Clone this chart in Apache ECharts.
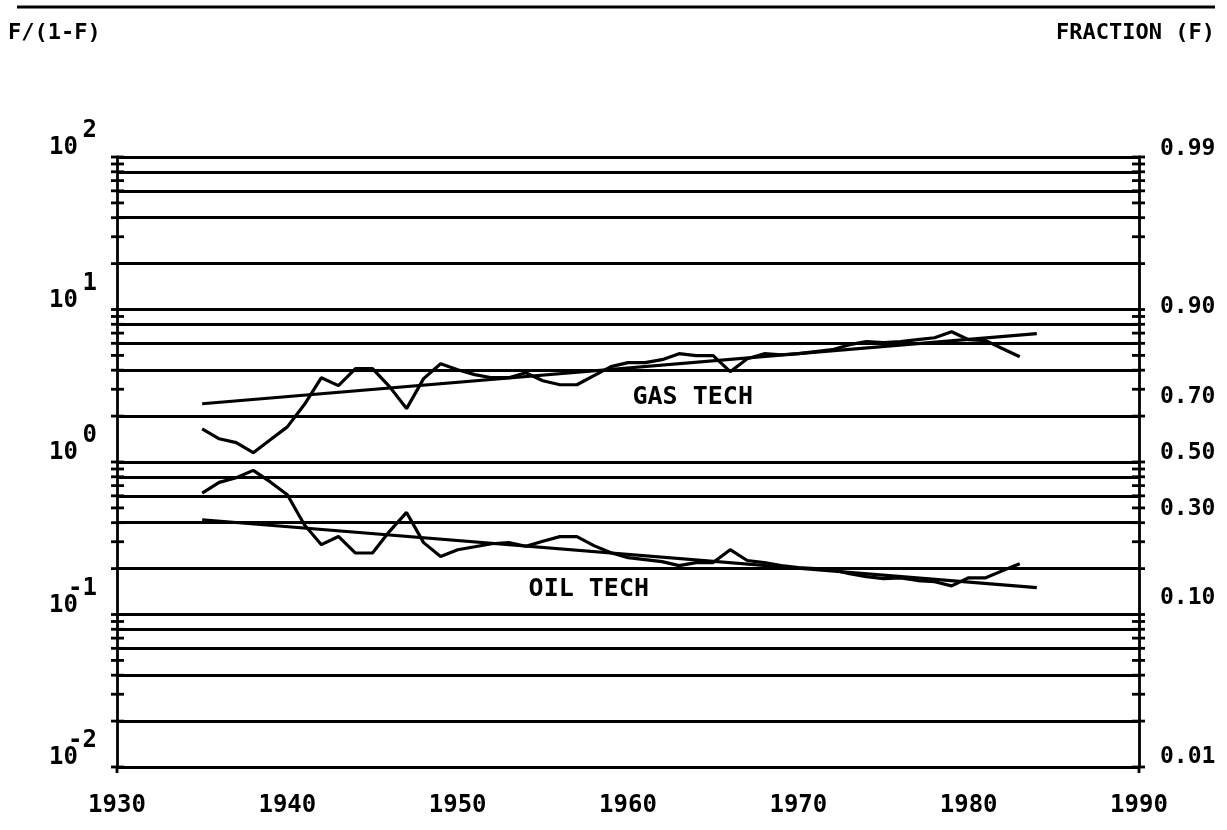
<!DOCTYPE html>
<html><head><meta charset="utf-8">
<script src="https://cdn.jsdelivr.net/npm/echarts@6/dist/echarts.min.js"></script>
<style>html,body{margin:0;padding:0;background:#fff}#c{width:1227px;height:830px}</style>
</head><body><div id="c"></div>
<script>
const years = [1935,1936,1937,1938,1939,1940,1941,1942,1943,1944,1945,1946,1947,1948,1949,1950,1951,1952,1953,1954,1955,1956,1957,1958,1959,1960,1961,1962,1963,1964,1965,1966,1967,1968,1969,1970,1971,1972,1973,1974,1975,1976,1977,1978,1979,1980,1981,1982,1983];
const gasTech = [1.65,1.42,1.34,1.15,1.40,1.70,2.38,3.57,3.17,4.09,4.09,3.12,2.24,3.52,4.41,4.03,3.74,3.57,3.57,3.85,3.41,3.21,3.21,3.68,4.22,4.48,4.48,4.69,5.13,4.98,4.98,3.91,4.76,5.13,5.05,5.13,5.29,5.45,5.88,6.15,6.06,6.15,6.34,6.53,7.15,6.34,6.25,5.53,4.90];
const oilTech = [0.626,0.735,0.789,0.881,0.74,0.610,0.388,0.287,0.325,0.253,0.253,0.351,0.467,0.296,0.240,0.266,0.278,0.291,0.296,0.280,0.302,0.324,0.324,0.283,0.254,0.236,0.229,0.222,0.209,0.219,0.219,0.266,0.226,0.219,0.209,0.203,0.200,0.197,0.185,0.177,0.172,0.174,0.167,0.164,0.154,0.174,0.174,0.194,0.215];
const fitYears = [1935, 1984];
const gasFit = [2.41, 6.94];
const oilFit = [0.418, 0.150];
const gridValues = [0.02,0.04,0.06,0.08,0.1,0.2,0.4,0.6,0.8,1,2,4,6,8,10,20,40,60,80,100];
const tickValues = [0.01,0.02,0.03,0.04,0.05,0.06,0.07,0.08,0.09,0.1,0.2,0.3,0.4,0.5,0.6,0.7,0.8,0.9,1,2,3,4,5,6,7,8,9,10,20,30,40,50,60,70,80,90,100];
const xTickYears = [1930,1990];
const powerValues = [0.01, 0.1, 1, 10, 100];
const powerExponents = ['-2','-1','0','1','2'];
const fractionLabels = ['0.99','0.90','0.70','0.50','0.30','0.10','0.01'];
const curveNames = ['GAS TECH','OIL TECH'];
const curveLabelYears = [1963.8, 1957.7];
const curveLabelValues = [2.64, 0.1454];

const FONT = '"DejaVu Sans Mono", monospace';
const BLK = '#000';
const chart = echarts.init(document.getElementById('c'), null, {renderer:'canvas'});

function lineSeries(xs, ys, w) {
  return { type:'line', data: xs.map((x,i)=>[x, ys[i]]), showSymbol:false, symbol:'none',
    lineStyle:{color:BLK, width:w}, itemStyle:{color:BLK}, silent:true, z:5 };
}

const yBase = { type:'log', logBase:10, min:0.01, max:100, splitNumber:4, splitLine:{show:false}, axisTick:{show:false}, axisLabel:{show:false} };

const option = {
  animation:false,
  backgroundColor:'#fff',
  grid:{left:117, right:88, top:157, bottom:63, containLabel:false},
  xAxis:{ type:'value', min:1930, max:1990, interval:10,
    axisLine:{show:true, lineStyle:{color:BLK, width:2.8}}, axisTick:{show:false}, splitLine:{show:false},
    axisLabel:{color:BLK, fontFamily:FONT, fontWeight:'bold', fontSize:24, margin:27, formatter:v=>String(v)} },
  yAxis:[
    Object.assign({}, yBase, { position:'left', axisLine:{show:true, lineStyle:{color:BLK, width:2.8}} }),
    Object.assign({}, yBase, { position:'right', axisLine:{show:true, lineStyle:{color:BLK, width:2.8}} })
  ],
  graphic:[
    {type:'line', shape:{x1:17, y1:7, x2:1215, y2:7}, style:{stroke:BLK, lineWidth:3}},
    {type:'text', left:8, top:22, style:{text:'F/(1-F)', font:'bold 22px '+FONT, fill:BLK}},
    {type:'text', right:12, top:22, style:{text:'FRACTION (F)', font:'bold 22px '+FONT, fill:BLK}}
  ],
  series:[
    Object.assign(lineSeries(fitYears, gasFit, 3.2), {
      markLine:{ silent:true, symbol:['none','none'], label:{show:false}, animation:false,
        lineStyle:{color:BLK, width:2.8, type:'solid'}, emphasis:{disabled:true},
        data: gridValues.map(v=>({yAxis:v})) } }),
    lineSeries(years, gasTech, 3.2),
    lineSeries(years, oilTech, 3.2),
    lineSeries(fitYears, oilFit, 3.2),
    { type:'custom', clip:false, silent:true, z:6,
      data: tickValues.map(v=>[1930, v]),
      encode:{x:0, y:1},
      renderItem:(params, api)=>{
        const v = api.value(1);
        const pL = api.coord([1930, v]);
        const pR = api.coord([1990, v]);
        const st = {stroke:BLK, lineWidth:2.8};
        return {type:'group', children:[
          {type:'line', shape:{x1:pL[0]-6, y1:pL[1], x2:pL[0]+7, y2:pL[1]}, style:st},
          {type:'line', shape:{x1:pR[0]-7, y1:pR[1], x2:pR[0]+6, y2:pR[1]}, style:st}
        ]};
      } },
    { type:'custom', clip:false, silent:true, z:6,
      data: xTickYears.map(y=>[y, 0.01]),
      encode:{x:0, y:1},
      renderItem:(params, api)=>{
        const p = api.coord([api.value(0), 0.01]);
        return {type:'line', shape:{x1:p[0], y1:p[1], x2:p[0], y2:p[1]+6}, style:{stroke:BLK, lineWidth:2.8}};
      } },
    { type:'custom', clip:false, silent:true, z:6,
      data: powerValues.map(v=>[1930, v]),
      encode:{x:0, y:1},
      renderItem:(params, api)=>{
        const p = api.coord([1930, api.value(1)]);
        return {type:'group', children:[
          {type:'text', x:p[0]-39, y:p[1]-9,
            style:{text:'10', font:'bold 24px '+FONT, fill:BLK, align:'right', verticalAlign:'middle'}},
          {type:'text', x:p[0]-20, y:p[1]-26,
            style:{text:powerExponents[params.dataIndex], font:'bold 24px '+FONT, fill:BLK, align:'right', verticalAlign:'middle'}}
        ]};
      } },
    { type:'custom', clip:false, silent:true, z:6,
      data: fractionLabels.map(s=>{ const f = parseFloat(s); return [1990, f/(1-f)]; }),
      encode:{x:0, y:1},
      renderItem:(params, api)=>{
        const p = api.coord([1990, api.value(1)]);
        return {type:'text', x:p[0]+21, y:p[1]-9,
          style:{text:fractionLabels[params.dataIndex], font:'bold 23px '+FONT, fill:BLK, align:'left', verticalAlign:'middle'}};
      } },
    { type:'custom', clip:false, silent:true, z:6,
      data: curveNames.map((n,i)=>[curveLabelYears[i], curveLabelValues[i]]),
      encode:{x:0, y:1},
      renderItem:(params, api)=>{
        const p = api.coord([api.value(0), api.value(1)]);
        return {type:'text', x:p[0], y:p[1],
          style:{text:curveNames[params.dataIndex], font:'bold 25px '+FONT, fill:BLK, align:'center', verticalAlign:'middle'}};
      } }
  ]
};
chart.setOption(option);
</script></body></html>
